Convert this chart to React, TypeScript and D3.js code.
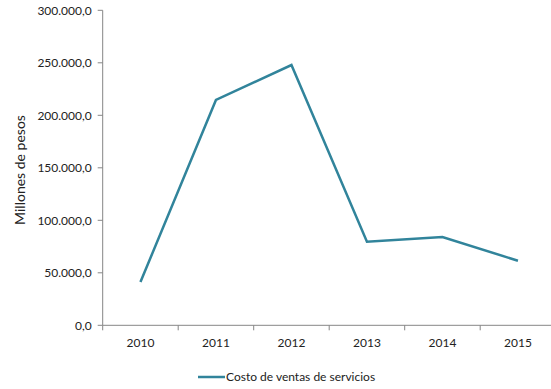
import React from "react";
import * as d3 from "d3";

const years = ["2010", "2011", "2012", "2013", "2014", "2015"];
const values = [41200, 214600, 247900, 79600, 84100, 61500];
const yTicks = [0, 50000, 100000, 150000, 200000, 250000, 300000];
const seriesName = "Costo de ventas de servicios";
const yTitle = "Millones de pesos";

const W = 551;
const H = 389;
const FONT = "Lato, 'Open Sans', sans-serif";

const fmt = (v: number) => {
  const s = Math.round(v).toString().replace(/\B(?=(\d{3})+(?!\d))/g, ".");
  return s + ",0";
};

export default function App() {
  const x = d3.scaleBand<string>().domain(years).range([102.7, 555.7]);
  const y = d3.scaleLinear().domain([0, 300000]).range([325.3, 10.3]);
  const line = d3
    .line<number>()
    .x((_, i) => (x(years[i]) as number) + x.bandwidth() / 2)
    .y((d) => y(d));
  const axisColor = "#868686";
  const bottom = y(0);
  const left = x.range()[0];
  return (
    <svg width={W} height={H} style={{ position: "absolute", left: 0, top: 0, background: "#fff" }}>
      <line x1={left} x2={left} y1={y(300000)} y2={bottom} stroke={axisColor} strokeWidth={1} />
      {yTicks.map((t) => (
        <g key={t}>
          <line x1={left - 5} x2={left} y1={y(t)} y2={y(t)} stroke={axisColor} />
          <text x={left - 11} y={y(t)} dy="0.35em" textAnchor="end" fontFamily={FONT} fontSize={12} fill="#222">
            {fmt(t)}
          </text>
        </g>
      ))}
      <line x1={left} x2={W} y1={bottom} y2={bottom} stroke={axisColor} />
      {years.map((yr) => (
        <g key={yr}>
          <line x1={x(yr) as number} x2={x(yr) as number} y1={bottom} y2={bottom + 5} stroke={axisColor} />
          <text
            x={(x(yr) as number) + x.bandwidth() / 2}
            y={bottom + 22}
            textAnchor="middle"
            fontFamily={FONT}
            fontSize={12}
            fill="#222"
          >
            {yr}
          </text>
        </g>
      ))}
      <path d={line(values) || ""} fill="none" stroke="#31849B" strokeWidth={2.5} strokeLinejoin="miter" />
      <text
        transform={`translate(25, 170) rotate(-90)`}
        textAnchor="middle"
        fontFamily={FONT}
        fontSize={14}
        fill="#222"
      >
        {yTitle}
      </text>
      <line x1={198} x2={225} y1={377} y2={377} stroke="#31849B" strokeWidth={2.5} />
      <text x={226} y={377} dy="0.35em" fontFamily={FONT} fontSize={12} fill="#222">
        {seriesName}
      </text>
    </svg>
  );
}
